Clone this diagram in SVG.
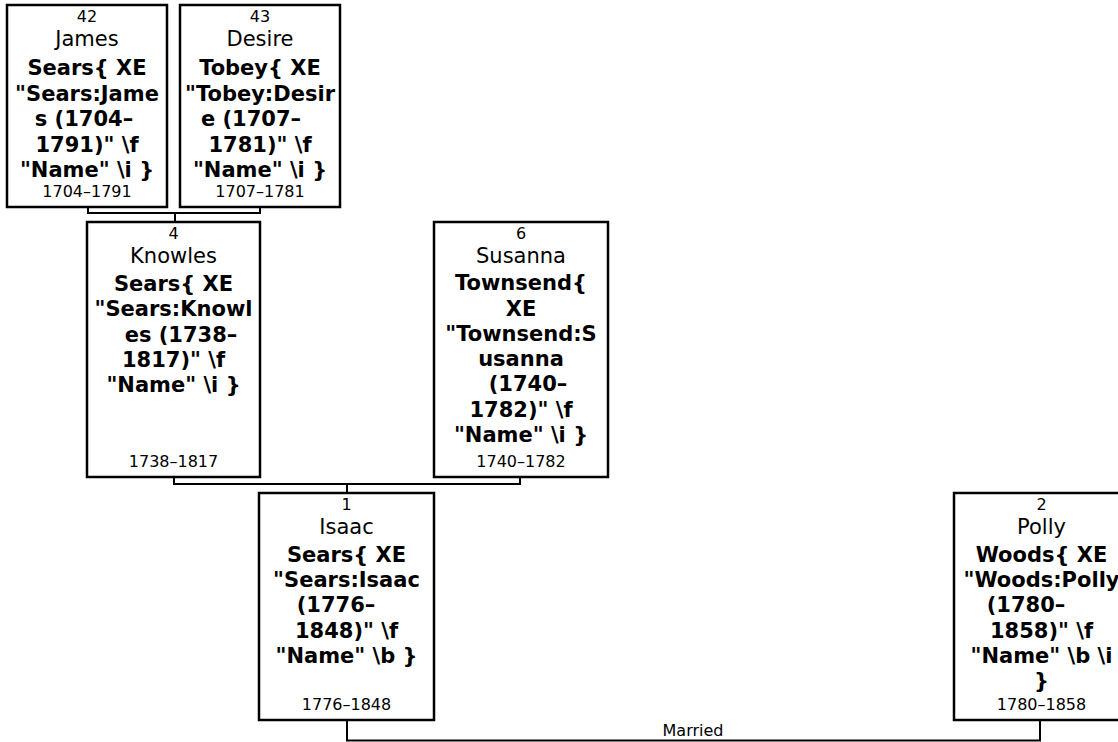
<svg xmlns="http://www.w3.org/2000/svg" width="1118" height="742" viewBox="0 0 1118 742">
<style>
.box{fill:#fff;stroke:#000;stroke-width:2.5}
.con{fill:none;stroke:#000;stroke-width:2}
text{font-family:"DejaVu Sans","Liberation Sans",sans-serif;fill:#000;text-anchor:middle}
.s{font-size:16px}
.n{font-size:21px}
.b{font-size:21px;font-weight:bold}
</style>
<rect width="1118" height="742" fill="#fff"/>
<g id="connectors">
<path class="con" d="M88,207V213H260V207M175,213V222"/>
<path class="con" d="M174,477V484H520V477M347,484V493"/>
<path class="con" d="M347,720V740.5H1040V720"/>
<text class="s" x="693" y="736">Married</text>
</g>
<g id="n42">
<rect class="box" x="7" y="5" width="160" height="202"/>
<text class="s" x="87" y="21.5">42</text>
<text class="n" x="87" y="46">James</text>
<text class="b" x="87" y="75">Sears{ XE</text>
<text class="b" x="87" y="100.5">"Sears:Jame</text>
<text class="b" x="84" y="126">s (1704–</text>
<text class="b" x="87" y="151.5">1791)" \f</text>
<text class="b" x="87" y="177">"Name" \i }</text>
<text class="s" x="87" y="197">1704–1791</text>
</g>
<g id="n43">
<rect class="box" x="180" y="5" width="160" height="202"/>
<text class="s" x="260" y="21.5">43</text>
<text class="n" x="260" y="46">Desire</text>
<text class="b" x="260" y="75">Tobey{ XE</text>
<text class="b" x="260" y="100.5">"Tobey:Desir</text>
<text class="b" x="251" y="126">e (1707–</text>
<text class="b" x="260" y="151.5">1781)" \f</text>
<text class="b" x="260" y="177">"Name" \i }</text>
<text class="s" x="260" y="197">1707–1781</text>
</g>
<g id="n4">
<rect class="box" x="87" y="222" width="173" height="255"/>
<text class="s" x="173.5" y="238.5">4</text>
<text class="n" x="173.5" y="263">Knowles</text>
<text class="b" x="173.5" y="291">Sears{ XE</text>
<text class="b" x="173.5" y="316">"Sears:Knowl</text>
<text class="b" x="181" y="341.5">es (1738–</text>
<text class="b" x="173.5" y="367">1817)" \f</text>
<text class="b" x="173.5" y="392">"Name" \i }</text>
<text class="s" x="173.5" y="467">1738–1817</text>
</g>
<g id="n6">
<rect class="box" x="434" y="222" width="174" height="255"/>
<text class="s" x="521" y="238.5">6</text>
<text class="n" x="521" y="263">Susanna</text>
<text class="b" x="521" y="290">Townsend{</text>
<text class="b" x="521" y="315.5">XE</text>
<text class="b" x="521" y="340.5">"Townsend:S</text>
<text class="b" x="521" y="366">usanna</text>
<text class="b" x="528" y="391">(1740–</text>
<text class="b" x="521" y="416.5">1782)" \f</text>
<text class="b" x="521" y="442">"Name" \i }</text>
<text class="s" x="521" y="467">1740–1782</text>
</g>
<g id="n1">
<rect class="box" x="259" y="493" width="175" height="227"/>
<text class="s" x="346.5" y="509.5">1</text>
<text class="n" x="346.5" y="534">Isaac</text>
<text class="b" x="346.5" y="562">Sears{ XE</text>
<text class="b" x="346.5" y="587">"Sears:Isaac</text>
<text class="b" x="336" y="612">(1776–</text>
<text class="b" x="346.5" y="637.5">1848)" \f</text>
<text class="b" x="346.5" y="662.5">"Name" \b }</text>
<text class="s" x="346.5" y="710">1776–1848</text>
</g>
<g id="n2">
<rect class="box" x="954" y="493" width="175" height="227"/>
<text class="s" x="1041.5" y="509.5">2</text>
<text class="n" x="1041.5" y="534">Polly</text>
<text class="b" x="1041.5" y="562">Woods{ XE</text>
<text class="b" x="1041.5" y="587">"Woods:Polly</text>
<text class="b" x="1026" y="612">(1780–</text>
<text class="b" x="1041.5" y="637.5">1858)" \f</text>
<text class="b" x="1041.5" y="662.5">"Name" \b \i</text>
<text class="b" x="1041.5" y="688">}</text>
<text class="s" x="1041.5" y="710">1780–1858</text>
</g>
</svg>
